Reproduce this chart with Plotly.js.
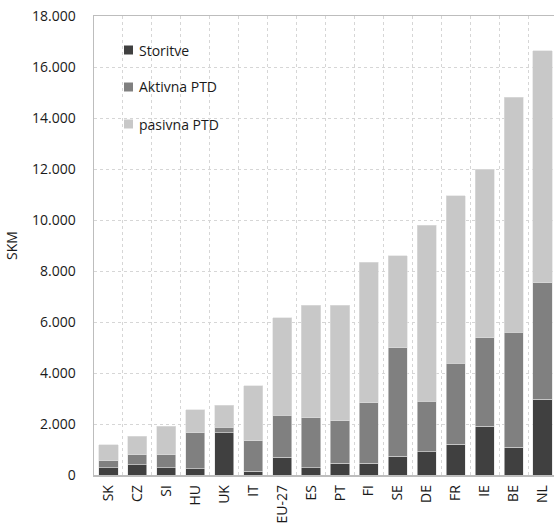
<!DOCTYPE html>
<html>
<head>
<meta charset="utf-8">
<script src="https://cdn.plot.ly/plotly-3.0.1.min.js"></script>
<style>html,body{margin:0;padding:0;overflow:hidden;background:#fff}</style>
</head>
<body>
<div id="chart" style="width:558px;height:526px"></div>
<script>
const categories = ["SK","CZ","SI","HU","UK","IT","EU-27","ES","PT","FI","SE","DE","FR","IE","BE","NL"];
const storitve = [290, 400, 290, 250, 1660, 140, 690, 290, 460, 460, 745, 915, 1200, 1910, 1080, 2970];
const aktivnaPTD = [270, 400, 510, 1410, 220, 1210, 1660, 1950, 1670, 2380, 4245, 1975, 3180, 3480, 4510, 4560];
const pasivnaPTD = [620, 720, 1110, 900, 850, 2150, 3810, 4410, 4520, 5510, 3600, 6900, 6570, 6610, 9220, 9100];
const seriesNames = ["Storitve", "Aktivna PTD", "pasivna PTD"];
const seriesColors = ["#404040", "#808080", "#c8c8c8"];
const yTicks = [0, 2000, 4000, 6000, 8000, 10000, 12000, 14000, 16000, 18000];

const series = [storitve, aktivnaPTD, pasivnaPTD];
const traces = series.map((vals, i) => ({
  type: "bar",
  x: categories,
  y: vals,
  name: seriesNames[i],
  showlegend: false,
  marker: {color: seriesColors[i], line: {color: "#e0e0e0", width: 0.6}},
  hoverinfo: "x+y+name"
}));

// Custom legend (matches the reference's tight symbol/text spacing)
const W = 558, H = 526, M = {l: 94, r: 1, t: 16, b: 51};
const pw = W - M.l - M.r, ph = H - M.t - M.b;
const px = v => (v - M.l) / pw;
const py = v => (H - M.b - v) / ph;
const legendRowsY = [50, 87, 124];
const shapes = [], annotations = [];
seriesNames.forEach((n, i) => {
  const cy = legendRowsY[i];
  shapes.push({type: "rect", xref: "paper", yref: "paper",
    x0: px(124), x1: px(133), y0: py(cy + 4.5), y1: py(cy - 4.5),
    fillcolor: seriesColors[i], line: {width: 0}});
  annotations.push({xref: "paper", yref: "paper", x: px(137), y: py(cy),
    xanchor: "left", yanchor: "middle", showarrow: false, text: n,
    font: {size: 14, color: "#1a1a1a"}});
});

const layout = {
  width: W,
  height: H,
  margin: M,
  paper_bgcolor: "#ffffff",
  plot_bgcolor: "#ffffff",
  barmode: "stack",
  bargap: 0.34,
  separators: ",.",
  font: {family: "Open Sans, DejaVu Sans, sans-serif", size: 14, color: "#1a1a1a"},
  showlegend: false,
  shapes: shapes,
  annotations: annotations,
  xaxis: {
    type: "category",
    tickangle: -90,
    tickson: "boundaries",
    ticks: "",
    ticklabelstandoff: 3,
    showgrid: true,
    gridcolor: "#d6d6d6",
    griddash: "dot",
    gridwidth: 1,
    showline: true,
    linecolor: "#bdbdbd",
    linewidth: 1.5,
    mirror: true,
    tickfont: {size: 14, color: "#1a1a1a"},
    range: [-0.5, 15.5]
  },
  yaxis: {
    range: [0, 18000],
    tickvals: yTicks,
    tickformat: ",d",
    showgrid: true,
    gridcolor: "#d6d6d6",
    griddash: "dot",
    gridwidth: 1,
    zeroline: false,
    showline: true,
    linecolor: "#bdbdbd",
    linewidth: 1.5,
    ticks: "",
    ticklabelstandoff: 14,
    tickfont: {size: 14, color: "#1a1a1a"},
    title: {text: "SKM", font: {size: 14, color: "#1a1a1a"}, standoff: 11}
  }
};

Plotly.newPlot("chart", traces, layout, {displayModeBar: false, staticPlot: true});
</script>
</body>
</html>
